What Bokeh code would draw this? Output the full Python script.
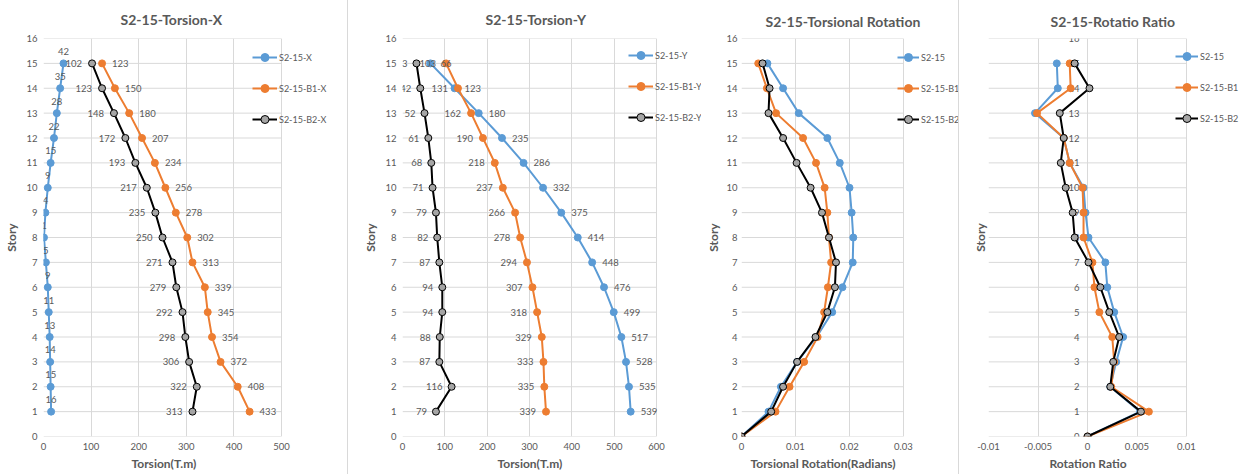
from bokeh.plotting import figure
from bokeh.models import (Range1d, FixedTicker, NumeralTickFormatter, Legend, LegendItem,
                          ColumnDataSource, Div, Title)
from bokeh.layouts import row
from bokeh.core.properties import value
from bokeh.embed import file_html
from bokeh.resources import INLINE

# ---------------- data ----------------
stories = list(range(1, 16))
stories0 = list(range(0, 16))
story_ticks = list(range(0, 17))

torsion_x = [16, 15, 14, 13, 11, 9, 5, 1, 4, 9, 15, 22, 28, 35, 42]
torsion_x_b1 = [433, 408, 372, 354, 345, 339, 313, 302, 278, 256, 234, 207, 180, 150, 123]
torsion_x_b2 = [313, 322, 306, 298, 292, 279, 271, 250, 235, 217, 193, 172, 148, 123, 102]

torsion_y = [539, 535, 528, 517, 499, 476, 448, 414, 375, 332, 286, 235, 180, 123, 66]
torsion_y_b1 = [339, 335, 333, 329, 318, 307, 294, 278, 266, 237, 218, 190, 162, 131, 103]
torsion_y_b2 = [79, 116, 87, 88, 94, 94, 87, 82, 79, 71, 68, 61, 52, 42, 33]

rot = [0, 0.0050, 0.0073, 0.0103, 0.0139, 0.0168, 0.0187, 0.0206, 0.0207, 0.0204,
       0.0200, 0.0182, 0.0159, 0.0106, 0.0077, 0.0048]
rot_b1 = [0, 0.0063, 0.0089, 0.0116, 0.0141, 0.0153, 0.0160, 0.0166, 0.0162, 0.0159,
          0.0154, 0.0138, 0.0114, 0.0064, 0.0047, 0.0031]
rot_b2 = [0, 0.0055, 0.0077, 0.0103, 0.0137, 0.0159, 0.0173, 0.0175, 0.0162, 0.0149,
          0.0128, 0.0102, 0.0077, 0.0050, 0.0052, 0.0039]

ratio = [0, 0.0053, 0.0023, 0.0029, 0.0036, 0.0027, 0.0020, 0.0018, 0.0001, -0.0002,
         -0.0004, -0.0018, -0.0024, -0.0053, -0.0030, -0.0031]
ratio_b1 = [0, 0.0062, 0.0024, 0.0027, 0.0025, 0.0012, 0.0007, 0.0005, -0.0004, -0.0004,
            -0.0005, -0.0018, -0.0024, -0.0051, -0.0017, -0.0018]
ratio_b2 = [0, 0.0054, 0.0023, 0.0026, 0.0032, 0.0022, 0.0013, 0.0001, -0.0013, -0.0015,
            -0.0022, -0.0027, -0.0024, -0.0028, 0.0002, -0.0013]

# ---------------- style ----------------
FONT = "Lato"
GRAY = "#595959"
GRID = "#d9d9d9"
BLUE = "#5B9BD5"
ORANGE = "#ED7D31"
H = 474
BT = 38   # top border
BB = 38   # bottom border


def make_fig(title, width, bl, x0, x1, real_w, xticks, xlabel, toff, tstand, loff,
             fmt=None, ylab_standoff=6, ytitle_standoff=4):
    # frame extends to the right edge of the figure so that the legend can overlap it;
    # the axis range is stretched so that [x0, x1] keeps its on-screen width real_w
    frame_w = width - bl
    xmax = x0 + (x1 - x0) * frame_w / real_w
    p = figure(width=width, height=H, x_range=Range1d(x0, xmax), y_range=Range1d(0, 16),
               output_backend="svg", toolbar_location=None,
               min_border_left=bl, min_border_right=0, min_border_top=BT, min_border_bottom=BB)
    p.title.text = title
    p.title.align = "left"
    p.title.offset = toff
    p.title.vertical_align = "top"
    p.title.standoff = tstand
    p.title.text_font = FONT
    p.title.text_font_size = "14px"
    p.title.text_color = GRAY
    p.title.text_font_style = "bold"
    p.outline_line_color = None
    p.xaxis.ticker = FixedTicker(ticks=xticks)
    p.yaxis.ticker = FixedTicker(ticks=story_ticks)
    p.xgrid.ticker = FixedTicker(ticks=xticks)
    p.ygrid.visible = False
    if fmt:
        p.xaxis.formatter = NumeralTickFormatter(format=fmt)
    for ax in (p.xaxis[0], p.yaxis[0]):
        ax.axis_line_color = None
        ax.major_tick_line_color = None
        ax.minor_tick_line_color = None
        ax.major_tick_out = 0
        ax.major_tick_in = 0
        ax.minor_tick_out = 0
        ax.major_label_text_font = FONT
        ax.major_label_text_font_size = "9.5px"
        ax.major_label_text_color = GRAY
        ax.axis_label_text_font = FONT
        ax.axis_label_text_font_size = "12px"
        ax.axis_label_text_font_style = "bold"
        ax.axis_label_text_color = GRAY
    p.xaxis.major_label_standoff = 6
    p.yaxis.major_label_standoff = ylab_standoff
    p.yaxis.axis_label = "Story"
    p.yaxis.axis_label_standoff = ytitle_standoff
    p.xgrid.grid_line_color = GRID
    # x axis title placed as a below-title so it can be centred on the real range
    t = Title(text=xlabel, align="left", offset=loff, text_font=FONT, text_font_size="12px",
              text_font_style="bold", text_color=GRAY, standoff=2)
    p.add_layout(t, "below")
    # horizontal gridlines limited to the real axis range
    gsrc = ColumnDataSource(dict(x0=[x0] * len(story_ticks), x1=[x1] * len(story_ticks),
                                 y=story_ticks))
    p.segment(x0="x0", x1="x1", y0="y", y1="y", source=gsrc, line_color=GRID, line_width=1)
    return p


def series(p, xs, ys, color, fill):
    src = ColumnDataSource(dict(x=xs, y=ys, lab=[str(v) for v in xs]))
    l = p.line("x", "y", source=src, line_color=color, line_width=2)
    s = p.scatter("x", "y", source=src, size=7, fill_color=fill, line_color=color, line_width=1)
    return src, [l, s]


def labels(p, src, align, dx, dy):
    p.text("x", "y", text="lab", source=src, text_font=value(FONT), text_font_size="9.5px",
           text_color=GRAY, text_align=align, text_baseline="middle", x_offset=dx, y_offset=dy)


def legend(p, names, rends, x, y, gw=25):
    lg = Legend(items=[LegendItem(label=n, renderers=r) for n, r in zip(names, rends)],
                location=(x, y), orientation="vertical", glyph_width=gw, glyph_height=20,
                spacing=11, padding=0, margin=0, label_standoff=2,
                label_text_font=FONT, label_text_font_size="9px", label_text_color=GRAY,
                border_line_color=None, background_fill_alpha=0)
    p.add_layout(lg)


# ---------------- panel 1 ----------------
p1 = make_fig("S2-15-Torsion-X", 347, 43, 0, 500, 238, [0, 100, 200, 300, 400, 500],
              "Torsion(T.m)", 77, 18, 88)
s1a, r1a = series(p1, torsion_x, stories, BLUE, BLUE)
s1b, r1b = series(p1, torsion_x_b1, stories, ORANGE, ORANGE)
s1c, r1c = series(p1, torsion_x_b2, stories, "black", "#a5a5a5")
labels(p1, s1a, "center", 0, -12)
labels(p1, s1b, "left", 10, 0)
labels(p1, s1c, "right", -10, 0)
legend(p1, ["S2-15-X", "S2-15-B1-X", "S2-15-B2-X"], [r1a, r1b, r1c], 209, 307)

# ---------------- panel 2 ----------------
p2 = make_fig("S2-15-Torsion-Y", 353, 54, 0, 600, 254, [0, 100, 200, 300, 400, 500, 600],
              "Torsion(T.m)", 83, 18, 95)
s2a, r2a = series(p2, torsion_y, stories, BLUE, BLUE)
s2b, r2b = series(p2, torsion_y_b1, stories, ORANGE, ORANGE)
s2c, r2c = series(p2, torsion_y_b2, stories, "black", "#a5a5a5")
labels(p2, s2a, "left", 10, 0)
labels(p2, s2b, "right", -10, 0)
labels(p2, s2c, "right", -9, 0)
legend(p2, ["S2-15-Y", "S2-15-B1-Y", "S2-15-B2-Y"], [r2a, r2b, r2c], 226, 309)

# ---------------- panel 3 ----------------
p3 = make_fig("S2-15-Torsional Rotation", 257, 40, 0, 0.03, 162, [0, 0.01, 0.02, 0.03],
              "Torsional Rotation(Radians)", 24, 14, 9, fmt="0.[000]",
              ylab_standoff=4, ytitle_standoff=2)
s3a, r3a = series(p3, rot, stories0, BLUE, BLUE)
s3b, r3b = series(p3, rot_b1, stories0, ORANGE, ORANGE)
s3c, r3c = series(p3, rot_b2, stories0, "black", "#a5a5a5")
legend(p3, ["S2-15", "S2-15-B1", "S2-15-B2"], [r3a, r3b, r3c], 156, 307, gw=22)

# ---------------- panel 4 ----------------
p4 = make_fig("S2-15-Rotatio Ratio", 280, 29, -0.01, 0.01, 198, [-0.01, -0.005, 0, 0.005, 0.01],
              "Rotation Ratio", 62, 14, 61, fmt="0.[000]")
p4.yaxis.ticker = FixedTicker(ticks=[])
p4.yaxis.axis_label_standoff = 1
ytick_src = ColumnDataSource(dict(x=[0] * len(story_ticks), y=story_ticks,
                                  lab=[str(v) for v in story_ticks]))
p4.text("x", "y", text="lab", source=ytick_src, text_font=value(FONT), text_font_size="9.5px",
        text_color=GRAY, text_align="right", text_baseline="middle", x_offset=-8)
s4a, r4a = series(p4, ratio, stories0, BLUE, BLUE)
s4b, r4b = series(p4, ratio_b1, stories0, ORANGE, ORANGE)
s4c, r4c = series(p4, ratio_b2, stories0, "black", "#a5a5a5")
legend(p4, ["S2-15", "S2-15-B1", "S2-15-B2"], [r4a, r4b, r4c], 187, 308, gw=23)

sep1 = Div(width=1, height=H, margin=0, styles={"background-color": GRID})
sep2 = Div(width=1, height=H, margin=0, styles={"background-color": GRID})

layout = row(p1, sep1, p2, p3, sep2, p4)
open("out.html", "w").write(file_html(layout, INLINE))
